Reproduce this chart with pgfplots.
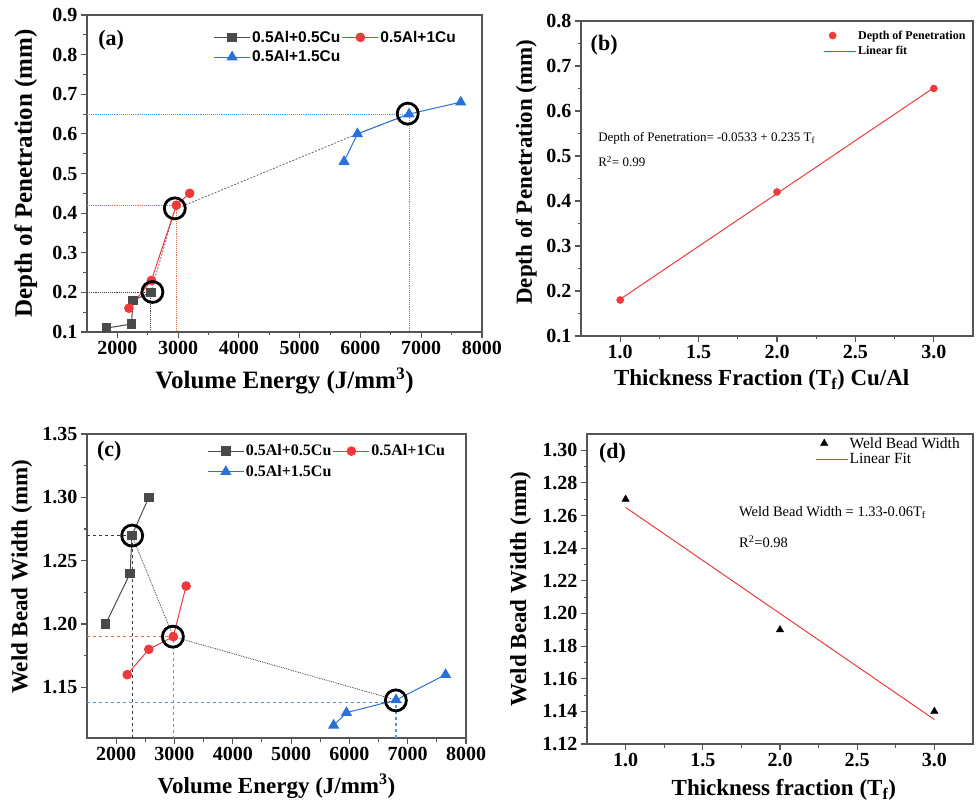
\documentclass[border=0pt]{standalone}
\usepackage{fontspec}
\setmainfont{Liberation Serif}
\newfontfamily\legsans{Liberation Sans}
\usepackage{pgfplots}
\pgfplotsset{compat=1.18}

\definecolor{sqgray}{HTML}{4A4A4A}
\definecolor{dotred}{HTML}{EE3A3A}
\definecolor{triblue}{HTML}{2A70DA}
\definecolor{framegray}{HTML}{555555}
\definecolor{guidegray}{HTML}{3A3A3A}
\definecolor{guidered}{HTML}{F26A45}
\definecolor{guideblue}{HTML}{449BE2}

\pgfplotsset{
  panel/.style={
    scale only axis, anchor=south west,
    axis line style={framegray, line width=1.3pt},
    every tick/.style={framegray, line width=1.1pt},
    major tick length=6pt, minor tick length=3.5pt,
    tick align=outside, xtick pos=bottom, ytick pos=left,
    minor tick num=1,
    tick label style={font=\fontsize{20}{22}\selectfont\bfseries},
    xticklabel={\textbf{\pgfmathprintnumber[assume math mode=true]{\tick}}},
    yticklabel={\textbf{\pgfmathprintnumber[assume math mode=true]{\tick}}},
    /pgf/number format/assume math mode=true,
    /pgf/number format/1000 sep={},
    legend cell align=left,
    label style={font=\fontsize{23}{25}\selectfont\bfseries},
  },
  % legend symbol: a coloured line with the marker in its middle
  limg/.style 2 args={legend image code/.code={%
    \draw[draw=#1, line width=1pt, mark repeat=2, mark phase=2,
          mark options={solid, draw=#1, fill=#1}]
      plot coordinates {(0pt,0pt)(#2/2,0pt)(#2,0pt)};}},
  % legend symbol: a plain coloured line
  lline/.style 2 args={legend image code/.code={%
    \draw[draw=#1, line width=1pt] (0pt,0pt) -- (#2,0pt);}},
  yfix/.style={yticklabel style={/pgf/number format/.cd,fixed,fixed zerofill,precision=#1,1000 sep={}}},
  xfix/.style={xticklabel style={/pgf/number format/.cd,fixed,fixed zerofill,precision=#1,1000 sep={}}},
  guide/.style={draw=#1, line width=1.1pt, forget plot},
  ring/.style={black, only marks, mark=o, mark size=10.5pt, line width=2.8pt, forget plot},
}

\begin{document}
\begin{tikzpicture}
\path[use as bounding box] (0pt,0pt) rectangle (976pt,805pt);

% ---------------- (a) depth of penetration vs volume energy
\begin{axis}[panel, at={(87pt,473pt)}, width=395pt, height=317pt,
  xmin=1500, xmax=8000, ymin=0.1, ymax=0.9,
  xtick={2000,3000,...,8000}, ytick={0.1,0.2,...,0.9},
  yfix=1, xfix=0,
  xlabel={Volume Energy (J/mm\textsuperscript{3})},
  ylabel={Depth of Penetration (mm)},
  label style={font=\fontsize{25}{27}\selectfont\bfseries},
  xlabel style={at={(axis description cs:0.5,-0.156)}, anchor=center},
  ylabel style={at={(axis description cs:-0.155,0.5)}, anchor=center},
  legend columns=2,
  legend style={at={(0.32,0.955)}, anchor=north west, draw=none, fill=none,
    font=\legsans\fontsize{15.5}{17}\selectfont\bfseries, inner sep=0pt,
    row sep=4pt, column sep=0pt, nodes={inner sep=1.5pt}},
]
\addplot[guide=guidegray, densely dotted] coordinates {(1500,0.2)(2550,0.2)(2550,0.1)};
\addplot[guide=guidered, densely dotted] coordinates {(1500,0.42)(2970,0.42)(2970,0.1)};
\addplot[guide=guideblue, densely dotted] coordinates {(1500,0.65)(6800,0.65)(6800,0.1)};
\addplot[draw=gray!80!black, line width=0.8pt, dash pattern=on 2pt off 1.5pt, forget plot]
  coordinates {(2550,0.20)(2950,0.41)(5950,0.60)(6790,0.65)};
\addplot[color=sqgray, line width=1pt, mark=square*, mark size=4.2pt, mark options={solid, fill=sqgray},
  limg={sqgray}{36pt}]
  coordinates {(1820,0.11)(2230,0.12)(2260,0.18)(2550,0.20)};
\addlegendentry{0.5Al+0.5Cu}
\addplot[color=dotred, line width=1pt, mark=*, mark size=4.3pt, mark options={solid, fill=dotred},
  limg={dotred}{36pt}]
  coordinates {(2190,0.16)(2560,0.23)(2970,0.42)(3190,0.45)};
\addlegendentry{0.5Al+1Cu}
\addplot[color=triblue, line width=1pt, mark=triangle*, mark size=5.5pt, mark options={solid, fill=triblue},
  limg={triblue}{36pt}]
  coordinates {(5730,0.53)(5950,0.60)(6800,0.65)(7650,0.68)};
\addlegendentry{0.5Al+1.5Cu}
\addplot[ring] coordinates {(2577,0.201)(2945,0.412)(6778,0.651)};
\node[font=\fontsize{22}{24}\selectfont\bfseries] at (rel axis cs:0.061,0.921) {(a)};
\end{axis}

% ---------------- (b) depth of penetration vs thickness fraction
\begin{axis}[panel, at={(581pt,469pt)}, width=392pt, height=315pt,
  xmin=0.75, xmax=3.25, ymin=0.1, ymax=0.8,
  xtick={1.0,1.5,...,3.0}, ytick={0.1,0.2,...,0.8},
  yfix=1, xfix=1,
  xlabel={Thickness Fraction (T\textsubscript{f}) Cu/Al},
  ylabel={Depth of Penetration (mm)},
  xlabel style={at={(axis description cs:0.461,-0.14)}, anchor=center},
  ylabel style={at={(axis description cs:-0.14,0.52)}, anchor=center},
  legend style={at={(0.985,0.975)}, anchor=north east, draw=none, fill=none,
    font=\fontsize{12}{14}\selectfont\bfseries, inner sep=0pt, row sep=3pt,
    nodes={inner sep=1.5pt}},
]
\addplot[color=dotred, only marks, mark=*, mark size=3.6pt] coordinates {(1,0.18)(2,0.42)(3,0.65)};
\addlegendentry{Depth of Penetration}
\addplot[draw=dotred, line width=1pt, lline={dotred}{32pt}] coordinates {(1,0.1817)(3,0.6517)};
\addlegendentry{Linear fit}
\node[font=\fontsize{22}{24}\selectfont\bfseries] at (rel axis cs:0.059,0.924) {(b)};
\node[anchor=west, font=\fontsize{13}{15}\selectfont] at (rel axis cs:0.035,0.629)
  {Depth of Penetration= -0.0533 + 0.235 T\textsubscript{f}};
\node[anchor=west, font=\fontsize{13}{15}\selectfont] at (rel axis cs:0.035,0.553)
  {R\textsuperscript{2}= 0.99};
\end{axis}

% ---------------- (c) weld bead width vs volume energy
\begin{axis}[panel, at={(87pt,67pt)}, width=379pt, height=304pt,
  xmin=1500, xmax=8000, ymin=1.11, ymax=1.35,
  xtick={2000,3000,...,8000}, ytick={1.15,1.20,1.25,1.30,1.35},
  yfix=2, xfix=0,
  xlabel={Volume Energy (J/mm\textsuperscript{3})},
  ylabel={Weld Bead Width (mm)},
  xlabel style={at={(axis description cs:0.5,-0.16)}, anchor=center},
  ylabel style={at={(axis description cs:-0.172,0.53)}, anchor=center},
  legend columns=2,
  legend style={at={(0.317,0.97)}, anchor=north west, draw=none, fill=none,
    font=\fontsize{16}{18}\selectfont\bfseries, inner sep=0pt,
    row sep=5pt, column sep=0pt, nodes={inner sep=1.5pt}},
]
\addplot[guide=guidegray, dashed] coordinates {(1500,1.27)(2285,1.27)};
\addplot[guide=guidegray, dashed] coordinates {(2278,1.11)(2278,1.27)};
\addplot[guide=guidered, dashed] coordinates {(1500,1.19)(2985,1.19)(2985,1.11)};
\addplot[guide=guideblue, dashed] coordinates {(1500,1.138)(6925,1.138)};
\addplot[guide=guideblue, dashed] coordinates {(6800,1.11)(6800,1.14)};
\addplot[draw=guidegray, line width=0.8pt, densely dotted, forget plot]
  coordinates {(2270,1.27)(2980,1.19)(6800,1.14)};
\addplot[color=sqgray, line width=1pt, mark=square*, mark size=4.2pt, mark options={solid, fill=sqgray},
  limg={sqgray}{36pt}]
  coordinates {(1820,1.20)(2240,1.24)(2270,1.27)(2560,1.30)};
\addlegendentry{0.5Al+0.5Cu}
\addplot[color=dotred, line width=1pt, mark=*, mark size=4.3pt, mark options={solid, fill=dotred},
  limg={dotred}{36pt}]
  coordinates {(2190,1.16)(2560,1.18)(2980,1.19)(3200,1.23)};
\addlegendentry{0.5Al+1Cu}
\addplot[color=triblue, line width=1pt, mark=triangle*, mark size=5.5pt, mark options={solid, fill=triblue},
  limg={triblue}{36pt}]
  coordinates {(5730,1.12)(5950,1.13)(6800,1.14)(7650,1.16)};
\addlegendentry{0.5Al+1.5Cu}
\addplot[ring] coordinates {(2275,1.2698)(2973,1.190)(6797,1.1397)};
\node[font=\fontsize{22}{24}\selectfont\bfseries] at (rel axis cs:0.059,0.942) {(c)};
\end{axis}

% ---------------- (d) weld bead width vs thickness fraction
\begin{axis}[panel, at={(587pt,61pt)}, width=386pt, height=310pt,
  xmin=0.75, xmax=3.25, ymin=1.12, ymax=1.31,
  xtick={1.0,1.5,...,3.0}, ytick={1.12,1.14,...,1.30},
  yfix=2, xfix=1,
  xlabel={Thickness fraction (T\textsubscript{f})},
  ylabel={Weld Bead Width (mm)},
  xlabel style={at={(axis description cs:0.51,-0.148)}, anchor=center},
  ylabel style={at={(axis description cs:-0.172,0.5)}, anchor=center},
  legend style={at={(0.97,0.995)}, anchor=north east, draw=none, fill=none,
    font=\fontsize{15.5}{17}\selectfont, inner sep=0pt, row sep=1pt,
    nodes={inner sep=1.5pt}},
]
\addplot[color=black, only marks, mark=triangle*, mark size=4.3pt] coordinates {(1,1.27)(2,1.19)(3,1.14)};
\addlegendentry{Weld Bead Width}
\addplot[draw=dotred, line width=1pt, lline={dotred}{32pt}] coordinates {(1,1.265)(3,1.135)};
\addlegendentry{Linear Fit}
\node[font=\fontsize{22}{24}\selectfont\bfseries] at (rel axis cs:0.066,0.939) {(d)};
\node[anchor=west, font=\fontsize{14.5}{16}\selectfont] at (rel axis cs:0.385,0.746)
  {Weld Bead Width = 1.33-0.06T\textsubscript{f}};
\node[anchor=west, font=\fontsize{14.5}{16}\selectfont] at (rel axis cs:0.385,0.653)
  {R\textsuperscript{2}=0.98};
\end{axis}
\end{tikzpicture}
\end{document}
